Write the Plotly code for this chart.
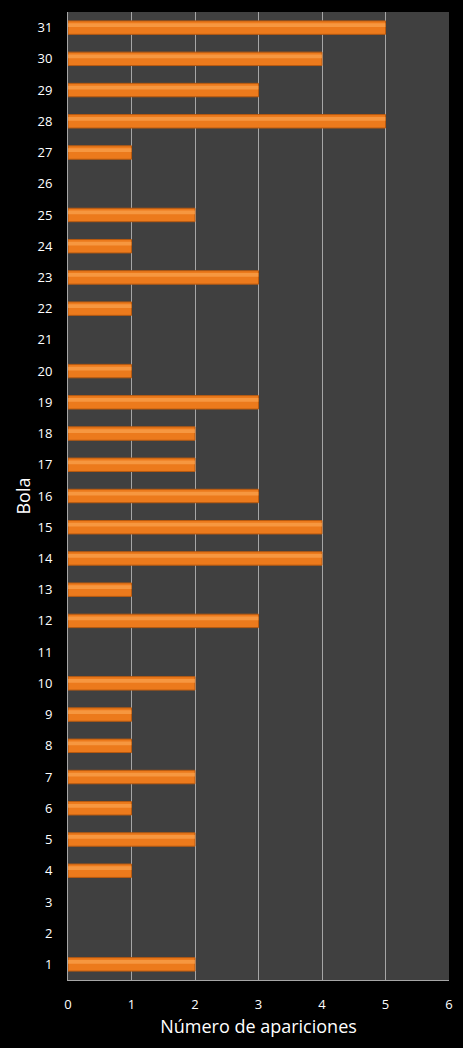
import plotly.graph_objects as go

# Datos: número de apariciones por bola
bolas = [str(i) for i in range(1, 32)]
apariciones = [2, 0, 0, 1, 2, 1, 2, 1, 1, 2,
               0, 3, 1, 4, 4, 3, 2, 2, 3, 1,
               0, 1, 3, 1, 2, 0, 1, 5, 3, 4, 5]
ticks_x = [0, 1, 2, 3, 4, 5, 6]

# sin borde en las barras vacías
bordes = [1 if v > 0 else 0 for v in apariciones]

fig = go.Figure()

# Barra principal
fig.add_trace(go.Bar(
    x=apariciones,
    y=bolas,
    orientation="h",
    marker=dict(color="#EC7A1C", line=dict(color="#B85A10", width=bordes)),
    showlegend=False,
))

# Brillo superior (efecto bisel)
fig.add_trace(go.Bar(
    x=apariciones,
    y=bolas,
    orientation="h",
    marker=dict(color="rgba(255,175,95,0.55)", line=dict(width=0)),
    width=0.12,
    offset=0.02,
    showlegend=False,
))

fig.update_layout(
    width=463,
    height=1048,
    margin=dict(l=68, r=10, t=12, b=68),
    paper_bgcolor="#000000",
    plot_bgcolor="#404040",
    bargap=0.57,
    barmode="overlay",
    font=dict(family="Open Sans, Liberation Sans, sans-serif", color="#ffffff", size=12),
    xaxis=dict(
        range=[0, 6],
        tickvals=ticks_x,
        showgrid=True,
        gridcolor="#a6a6a6",
        gridwidth=1,
        zeroline=False,
        showline=True,
        linecolor="#a6a6a6",
        ticks="",
        ticklabelstandoff=12,
        tickfont=dict(size=13, color="#ffffff"),
        title=dict(text="Número de apariciones", font=dict(size=18, color="#ffffff"), standoff=8),
    ),
    yaxis=dict(
        type="category",
        categoryorder="array",
        categoryarray=bolas,
        showgrid=False,
        zeroline=False,
        showline=True,
        linecolor="#a6a6a6",
        ticks="",
        ticklabelstandoff=12,
        tickfont=dict(size=13, color="#ffffff"),
        title=dict(text="Bola", font=dict(size=18, color="#ffffff"), standoff=2),
    ),
)

fig.write_html(
    "out.html",
    config={"displayModeBar": False},
    post_script="document.body.style.margin='0';document.body.style.background='#000';",
)
